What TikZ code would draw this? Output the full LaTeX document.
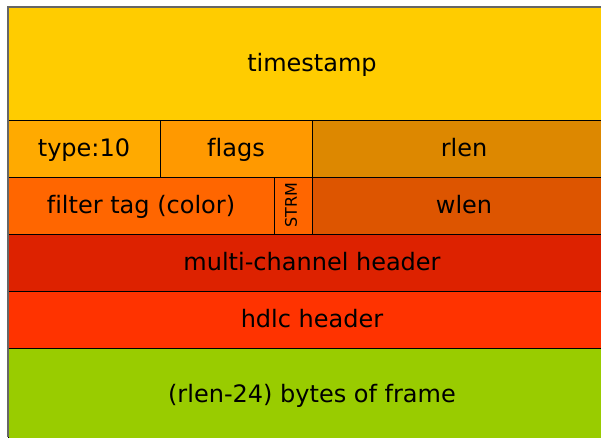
\documentclass[tikz,border=0pt]{standalone}
\usepackage{fontspec}
\setmainfont[Ligatures=NoCommon]{DejaVu Sans}
\definecolor{cTime}{HTML}{FFCC00}
\definecolor{cType}{HTML}{FFAA00}
\definecolor{cFlags}{HTML}{FF9900}
\definecolor{cRlen}{HTML}{DD8800}
\definecolor{cFilt}{HTML}{FF6600}
\definecolor{cWlen}{HTML}{DD5500}
\definecolor{cMulti}{HTML}{DD2200}
\definecolor{cHdlc}{HTML}{FF3300}
\definecolor{cFrame}{HTML}{99CC00}
\definecolor{cEdge}{HTML}{666666}
\begin{document}
\begin{tikzpicture}[x=1pt,y=-1pt,
  cellbox/.style={draw=black,line width=1pt},
  lbl/.style={anchor=base,inner sep=0pt,font=\fontsize{24}{28}\selectfont},
  small/.style={inner sep=0pt,font=\fontsize{16}{19}\selectfont,rotate=90}]
\useasboundingbox (0,0) rectangle (601,437);
\begin{scope}
\clip (0,0) rectangle (601,437);
\filldraw[cellbox,fill=cTime]  (8,6.5) rectangle (616,120.5);
\filldraw[cellbox,fill=cType]  (8,120.5) rectangle (160,177);
\filldraw[cellbox,fill=cFlags] (160,120.5) rectangle (312,177);
\filldraw[cellbox,fill=cRlen]  (312,120.5) rectangle (616,177);
\filldraw[cellbox,fill=cFilt]  (8,177) rectangle (274,234);
\filldraw[cellbox,fill=cFilt]  (274,177) rectangle (312,234);
\filldraw[cellbox,fill=cWlen]  (312,177) rectangle (616,234);
\filldraw[cellbox,fill=cMulti] (8,234) rectangle (616,291);
\filldraw[cellbox,fill=cHdlc]  (8,291) rectangle (616,348);
\filldraw[cellbox,fill=cFrame] (8,348) rectangle (616,440);
\draw[cEdge,line width=2pt] (8,437) -- (8,6.5) -- (616,6.5);
\end{scope}
\node[lbl] (ts) at (312,71.5) {timestamp};
\node[lbl] (ty) at (84,156.75) {type:10};
\node[lbl] (fl) at (236,156.75) {flags};
\node[lbl] (rl) at (464,156.75) {rlen};
\node[lbl] (ft) at (141,213.5) {filter tag (color)};
\node[small] (st) at (291,205.5) {STRM};
\node[lbl] (wl) at (464,213.5) {wlen};
\node[lbl] (mc) at (312,270.5) {multi-channel header};
\node[lbl] (hd) at (312,327.5) {hdlc header};
\node[lbl] (fr) at (312,402) {(rlen-24) bytes of frame};
\end{tikzpicture}
\end{document}
